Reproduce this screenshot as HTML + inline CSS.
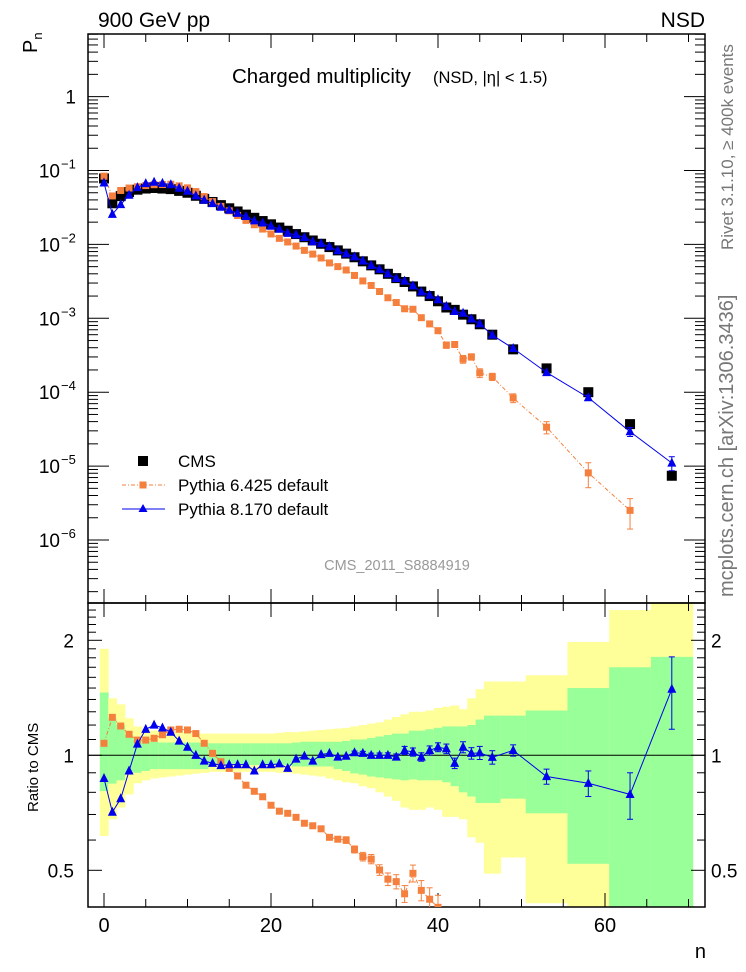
<!DOCTYPE html>
<html><head><meta charset="utf-8"><style>
html,body{margin:0;padding:0;background:#fff;width:746px;height:972px;overflow:hidden}
svg{display:block;font-family:"Liberation Sans",Arial,sans-serif}
</style></head><body>
<svg id="chart" width="746" height="972" viewBox="0 0 746 972" xmlns="http://www.w3.org/2000/svg">
<defs>
<clipPath id="clipMain"><rect x="88" y="34" width="617" height="569"/></clipPath>
<clipPath id="clipRatio"><rect x="88" y="603" width="617" height="304"/></clipPath>
</defs>
<g id="bands" clip-path="url(#clipRatio)"></g>
<g id="axes"></g>
<g id="mainSeries" clip-path="url(#clipMain)"></g>
<g id="ratioSeries" clip-path="url(#clipRatio)"></g>
<g id="labels">
<text x="98" y="27" font-size="21">900 GeV pp</text>
<text x="705" y="27" font-size="21" text-anchor="end">NSD</text>
<text transform="translate(37,53) rotate(-90)" font-size="20">P<tspan font-size="13" dy="5">n</tspan></text>
<text x="232" y="83" font-size="20.5">Charged multiplicity</text>
<text x="433" y="83" font-size="16.5">(NSD, |η| &lt; 1.5)</text>
<text transform="translate(733,250) rotate(-90)" font-size="17" fill="#777">Rivet 3.1.10, ≥ 400k events</text>
<text transform="translate(733,597) rotate(-90)" font-size="20" fill="#777">mcplots.cern.ch [arXiv:1306.3436]</text>
<text x="397" y="570" font-size="14.5" fill="#999" text-anchor="middle">CMS_2011_S8884919</text>
<text transform="translate(38,812) rotate(-90)" font-size="15">Ratio to CMS</text>
<text x="706" y="958" font-size="20" text-anchor="end">n</text>
</g>
<g id="legend">
<g>
<rect x="138" y="456" width="10" height="10" fill="#000"/>
<text x="178" y="467" font-size="17">CMS</text></g>
<g>
<line x1="122" y1="485" x2="165" y2="485" stroke="#f5803e" stroke-width="1" stroke-dasharray="4,2,1,2"/>
<rect x="139.5" y="481.5" width="7" height="7" fill="#f5803e"/>
<text x="178" y="491" font-size="17">Pythia 6.425 default</text></g>
<g>
<line x1="122" y1="509" x2="165" y2="509" stroke="#0000ee" stroke-width="1"/>
<path d="M143,504 L147.5,512 L138.5,512 Z" fill="#0000ee"/>
<text x="178" y="515" font-size="17">Pythia 8.170 default</text></g>
</g>
</svg>
<script>
const nVals = [0,1,2,3,4,5,6,7,8,9,10,11,12,13,14,15,16,17,18,19,20,21,22,23,24,25,26,27,28,29,30,31,32,33,34,35,36,37,38,39,40,41,42,43,44,45,46.5,49,53,58,63,68];
const binEdges = [-0.5,0.5,1.5,2.5,3.5,4.5,5.5,6.5,7.5,8.5,9.5,10.5,11.5,12.5,13.5,14.5,15.5,16.5,17.5,18.5,19.5,20.5,21.5,22.5,23.5,24.5,25.5,26.5,27.5,28.5,29.5,30.5,31.5,32.5,33.5,34.5,35.5,36.5,37.5,38.5,39.5,40.5,41.5,42.5,43.5,44.5,45.5,47.5,50.5,55.5,60.5,65.5,70.5];
const cmsPn = [0.078,0.036,0.045,0.051,0.055,0.057,0.058,0.057,0.056,0.053,0.050,0.0455,0.0413,0.0375,0.034,0.0308,0.0279,0.0253,0.0229,0.0207,0.0187,0.0169,0.0153,0.0138,0.0125,0.0113,0.0102,0.0092,0.0083,0.0075,0.0067,0.0059,0.0052,0.0046,0.0040,0.0035,0.0031,0.0027,0.0023,0.0020,0.0017,0.0014,0.0013,0.00112,0.00097,0.00083,0.0006,0.00038,0.00021,0.0001,0.000037,0.0000074];
const py6Ratio = [1.075,1.257,1.193,1.135,1.096,1.096,1.108,1.132,1.165,1.17,1.165,1.14,1.075,1.012,0.962,0.924,0.883,0.835,0.805,0.779,0.74,0.714,0.705,0.688,0.664,0.654,0.642,0.61,0.603,0.6,0.567,0.543,0.535,0.501,0.474,0.467,0.434,0.491,0.443,0.42,0.40,0.31,0.34,0.25,0.31,0.22,0.27,0.22,0.16,0.081,0.068,null];
const py6Err = [0,0,0,0,0,0,0,0,0,0,0,0,0,0,0,0,0,0,0,0,0.005,0.005,0.005,0.008,0.008,0.008,0.01,0.01,0.01,0.012,0.012,0.014,0.015,0.016,0.018,0.02,0.022,0.025,0.027,0.03,0.03,0.03,0.03,0.03,0.03,0.03,0.03,0.03,0.03,0.03,0.03,0];
const py8Ratio = [0.87,0.71,0.77,0.91,1.07,1.17,1.2,1.18,1.15,1.09,1.05,1.0,0.966,0.953,0.94,0.945,0.945,0.945,0.91,0.945,0.945,0.95,0.925,0.978,0.996,0.966,1.005,1.012,0.99,0.995,1.016,1.012,1.0,1.0,1.0,0.99,1.03,1.02,0.99,1.03,1.05,1.04,0.953,1.05,1.012,1.015,0.988,1.03,0.88,0.845,0.79,1.49];
const py8Err = [0,0,0,0,0,0,0,0,0,0,0,0,0,0,0,0,0,0,0,0,0,0,0,0,0,0,0,0,0,0,0.01,0.012,0.013,0.014,0.015,0.018,0.025,0.025,0.025,0.028,0.028,0.03,0.03,0.035,0.035,0.04,0.04,0.035,0.04,0.065,0.11,0.32];
const yellowHi = [1.9,1.41,1.36,1.25,1.19,1.17,1.16,1.15,1.15,1.15,1.14,1.14,1.14,1.14,1.14,1.14,1.14,1.14,1.14,1.14,1.14,1.145,1.15,1.15,1.155,1.16,1.165,1.17,1.175,1.18,1.19,1.2,1.21,1.22,1.24,1.26,1.28,1.3,1.3,1.31,1.33,1.34,1.35,1.32,1.41,1.49,1.56,1.56,1.62,1.98,2.4,2.6];
const yellowLo = [0.615,0.68,0.73,0.79,0.845,0.86,0.87,0.875,0.88,0.885,0.89,0.895,0.9,0.905,0.905,0.905,0.905,0.905,0.905,0.905,0.905,0.9,0.9,0.895,0.89,0.885,0.88,0.87,0.86,0.85,0.845,0.83,0.82,0.8,0.78,0.76,0.73,0.72,0.72,0.73,0.72,0.69,0.69,0.68,0.61,0.59,0.49,0.54,0.41,0.3,0.3,0.3];
const greenHi = [1.46,1.25,1.2,1.13,1.1,1.09,1.085,1.08,1.08,1.08,1.08,1.08,1.08,1.075,1.075,1.075,1.075,1.075,1.075,1.075,1.075,1.075,1.075,1.08,1.085,1.085,1.085,1.085,1.085,1.09,1.1,1.1,1.11,1.12,1.13,1.14,1.14,1.16,1.16,1.17,1.18,1.19,1.19,1.19,1.2,1.24,1.27,1.27,1.31,1.5,1.7,1.81];
const greenLo = [0.806,0.843,0.86,0.89,0.9,0.91,0.92,0.92,0.92,0.92,0.92,0.92,0.92,0.943,0.943,0.943,0.943,0.943,0.943,0.943,0.943,0.943,0.943,0.935,0.935,0.935,0.935,0.935,0.92,0.91,0.897,0.89,0.88,0.875,0.87,0.865,0.86,0.865,0.86,0.86,0.86,0.85,0.83,0.8,0.78,0.75,0.75,0.77,0.705,0.52,0.3,0.3];
const xTicksMajor = [0,20,40,60];
const mainTickLabels = ["1","10","10","10","10","10","10"];
const mainTickExps = ["","−1","−2","−3","−4","−5","−6"];
const ratioTickLabels = ["0.5","1","2"];
const ratioTickValues = [0.5,1,2];

const NS = "http://www.w3.org/2000/svg";
const X = n => 104 + 8.35 * n;
const YM = v => 96.6 - 73.9 * Math.log10(v);
const YR = r => 755.3 - 115 * Math.log2(r);
const L = 88, R = 705, T = 34, MID = 603, B = 907;
function mk(tag, attrs, parent) { const e = document.createElementNS(NS, tag); for (const k in attrs) e.setAttribute(k, attrs[k]); parent.appendChild(e); return e; }
const bands = document.getElementById('bands'), axes = document.getElementById('axes');
const mainS = document.getElementById('mainSeries'), ratS = document.getElementById('ratioSeries');

for (let i = 0; i < nVals.length; i++) {
  const x0 = Math.max(X(binEdges[i]), L), x1 = X(binEdges[i + 1]);
  const y = mk('rect', {x: x0, y: YR(yellowHi[i]), width: x1 - x0 + 0.5, height: YR(yellowLo[i]) - YR(yellowHi[i]), fill: '#ffff99'}, bands);
  
  
  const g = mk('rect', {x: x0, y: YR(greenHi[i]), width: x1 - x0 + 0.5, height: YR(greenLo[i]) - YR(greenHi[i]), fill: '#99ff99'}, bands);
  
  
}
const fm = mk('rect', {x: L, y: T, width: R - L, height: MID - T, fill: 'none', stroke: '#000', 'stroke-width': 1.5}, axes);


const fr = mk('rect', {x: L, y: MID, width: R - L, height: B - MID, fill: 'none', stroke: '#000', 'stroke-width': 1.5}, axes);


const one = mk('line', {x1: L, x2: R, y1: YR(1), y2: YR(1), stroke: '#000', 'stroke-width': 1}, axes);



for (let v = 0; v <= 70; v += 5) {
  const len = v % 20 === 0 ? 14 : 8, x = X(v);
  for (const [y0, dir] of [[T, 1], [MID, -1], [MID, 1], [B, -1]]) {
    mk('line', {x1: x, x2: x, y1: y0, y2: y0 + dir * len, stroke: '#000', 'stroke-width': 1}, axes);
  }
}
xTicksMajor.forEach(v => {
  const t = mk('text', {x: X(v), y: 932, 'font-size': 20, 'text-anchor': 'middle'}, axes);
  t.textContent = v;
  
  
});
for (let d = 0; d >= -7; d--) {
  for (let m = 1; m <= 9; m++) {
    const v = m * Math.pow(10, d), y = YM(v);
    if (y < T || y > MID) continue;
    const len = m === 1 ? 21 : 10;
    mk('line', {x1: L, x2: L + len, y1: y, y2: y, stroke: '#000', 'stroke-width': 1}, axes);
    mk('line', {x1: R, x2: R - len, y1: y, y2: y, stroke: '#000', 'stroke-width': 1}, axes);
  }
}
mainTickLabels.forEach((lab, i) => {
  const t = mk('text', {x: i === 0 ? 76 : 60, y: YM(Math.pow(10, -i)) + 7, 'font-size': 19, 'text-anchor': 'end'}, axes);
  t.textContent = lab;
  
  
  if (mainTickExps[i]) { const s = mk('text', {x: 61, y: YM(Math.pow(10, -i)) - 2, 'font-size': 13}, axes); s.textContent = mainTickExps[i]; }
});
[0.4,0.5,0.6,0.7,0.8,0.9,1,1.1,1.2,1.3,1.4,1.5,1.6,1.7,1.8,1.9,2,2.1,2.2,2.3,2.4].forEach(v => {
  const y = YR(v); if (y < MID || y > B) return;
  const len = (v === 0.5 || v === 1 || v === 2) ? 14 : 8;
  mk('line', {x1: L, x2: L + len, y1: y, y2: y, stroke: '#000', 'stroke-width': 1}, axes);
  mk('line', {x1: R, x2: R - len, y1: y, y2: y, stroke: '#000', 'stroke-width': 1}, axes);
});
ratioTickLabels.forEach((lab, i) => {
  const y = YR(ratioTickValues[i]) + 7;
  const a = mk('text', {x: 74, y: y, 'font-size': 19, 'text-anchor': 'end'}, axes);
  a.textContent = lab;
  
  
  const b = mk('text', {x: 711, y: y, 'font-size': 19}, axes);
  b.textContent = lab;
  
  
});

function tri(x, y, s, parent) { return mk('path', {d: `M${x},${y - s * 0.6} L${x + s / 2},${y + s * 0.4} L${x - s / 2},${y + s * 0.4} Z`, fill: '#0000ee'}, parent); }
function poly(pts, attrs, parent) { return mk('polyline', Object.assign({points: pts.map(p => p.join(',')).join(' '), fill: 'none'}, attrs), parent); }
function errbar(x, y0, y1, col, parent) { mk('line', {x1: x, x2: x, y1: y0, y2: y1, stroke: col, 'stroke-width': 1}, parent); mk('line', {x1: x - 3, x2: x + 3, y1: y0, y2: y0, stroke: col}, parent); mk('line', {x1: x - 3, x2: x + 3, y1: y1, y2: y1, stroke: col}, parent); }

cmsPn.forEach((v, i) => {
  const r = mk('rect', {x: X(nVals[i]) - 5, y: YM(v) - 5, width: 10, height: 10, fill: '#000'}, mainS);
  
  
});
const p6pts = [], p8pts = [];
nVals.forEach((n, i) => { if (py6Ratio[i] != null) p6pts.push([X(n), YM(cmsPn[i] * py6Ratio[i])]); p8pts.push([X(n), YM(cmsPn[i] * py8Ratio[i])]); });
const l6 = poly(p6pts, {stroke: '#f5803e', 'stroke-width': 1, 'stroke-dasharray': '4,2,1,2'}, mainS);


nVals.forEach((n, i) => {
  if (py6Ratio[i] == null) return;
  const v = cmsPn[i] * py6Ratio[i], e = cmsPn[i] * py6Err[i];
  if (py6Err[i] > 0.015) errbar(X(n), YM(v + e), YM(Math.max(v - e, v * 0.3)), '#f5803e', mainS);
  const r = mk('rect', {x: X(n) - 3.5, y: YM(v) - 3.5, width: 7, height: 7, fill: '#f5803e'}, mainS);
  
  
});
const l8 = poly(p8pts, {stroke: '#0000ee', 'stroke-width': 1}, mainS);


nVals.forEach((n, i) => {
  const v = cmsPn[i] * py8Ratio[i], e = cmsPn[i] * py8Err[i];
  if (py8Err[i] > 0.05) errbar(X(n), YM(v + e), YM(v - e), '#0000ee', mainS);
  const t = tri(X(n), YM(v), 9, mainS);
  
  
});

const r6pts = [], r8pts = [];
nVals.forEach((n, i) => { if (py6Ratio[i] != null) r6pts.push([X(n), YR(py6Ratio[i])]); r8pts.push([X(n), YR(py8Ratio[i])]); });
const rl6 = poly(r6pts, {stroke: '#f5803e', 'stroke-width': 1, 'stroke-dasharray': '4,2,1,2'}, ratS);


nVals.forEach((n, i) => {
  if (py6Ratio[i] == null) return;
  if (py6Err[i] > 0) errbar(X(n), YR(py6Ratio[i] + py6Err[i]), YR(py6Ratio[i] - py6Err[i]), '#f5803e', ratS);
  const r = mk('rect', {x: X(n) - 3.5, y: YR(py6Ratio[i]) - 3.5, width: 7, height: 7, fill: '#f5803e'}, ratS);
  
  
});
const rl8 = poly(r8pts, {stroke: '#0000ee', 'stroke-width': 1}, ratS);


nVals.forEach((n, i) => {
  if (py8Err[i] > 0) errbar(X(n), YR(py8Ratio[i] + py8Err[i]), YR(py8Ratio[i] - py8Err[i]), '#0000ee', ratS);
  const t = tri(X(n), YR(py8Ratio[i]), 9, ratS);
  
  
});
</script>
</body></html>
